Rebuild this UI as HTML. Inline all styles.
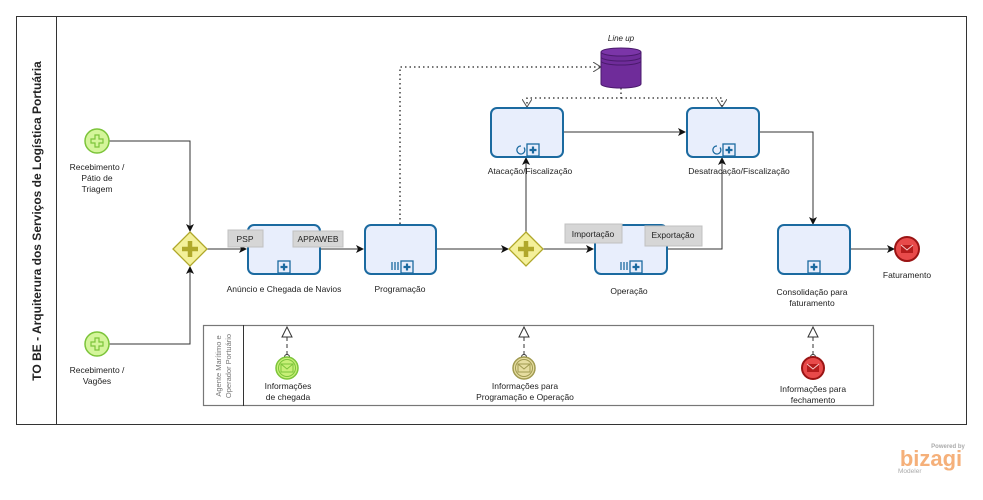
<!DOCTYPE html>
<html><head><meta charset="utf-8"><style>
body{margin:0;background:#fff}
svg{display:block;font-family:"Liberation Sans",sans-serif}
text{font-size:8.5px;fill:#222}
</style></head><body>
<svg width="983" height="500" viewBox="0 0 983 500">
<defs>
<marker id="a" markerWidth="8" markerHeight="8" refX="7" refY="4" orient="auto" markerUnits="userSpaceOnUse"><path d="M0,0 L8,4 L0,8 L2,4z" fill="#111"/></marker>
<marker id="o" markerWidth="10" markerHeight="10" refX="8" refY="5" orient="auto" markerUnits="userSpaceOnUse"><path d="M0,0 L8,5 L0,10" fill="none" stroke="#555"/></marker>
<g id="plus"><rect x="-6" y="-6" width="12" height="12" fill="#e8eefc" stroke="#1b6aa0" stroke-width="1.3"/><path d="M-3.5,0H3.5M0,-3.5V3.5" stroke="#1b6aa0" stroke-width="2.2"/></g>
<g id="gw"><path d="M0,-17 L17,0 L0,17 L-17,0z" fill="#f4f09a" stroke="#b0a82a" stroke-width="1.3"/><path d="M-8,0H8M0,-8V8" stroke="#b0a82a" stroke-width="4.5"/></g>
<g id="env"><rect x="-6" y="-4" width="12" height="8" fill="none" stroke-width="1"/><path d="M-6,-4 L0,1 L6,-4" fill="none" stroke-width="1"/></g>
</defs>
<!-- pool -->
<rect x="16.5" y="16.5" width="950" height="408" fill="#fff" stroke="#333"/>
<line x1="56.5" y1="16" x2="56.5" y2="425" stroke="#333"/>
<text transform="translate(41,221) rotate(-90)" text-anchor="middle" style="font-size:12px;font-weight:bold;fill:#222">TO BE - Arquiterura dos Serviços de Logística Portuária</text>

<!-- bottom pool -->
<rect x="203.5" y="325.5" width="670" height="80" fill="#fff" stroke="#777" stroke-width="1.2"/>
<line x1="243.5" y1="325" x2="243.5" y2="406" stroke="#333"/>
<text transform="translate(221,366) rotate(-90)" text-anchor="middle" style="font-size:7.5px;fill:#777">Agente Marítimo e</text>
<text transform="translate(231,366) rotate(-90)" text-anchor="middle" style="font-size:7.5px;fill:#777">Operador Portuário</text>

<!-- sequence flows -->
<g fill="none" stroke="#333" stroke-width="1">
<path d="M109,141 H190 V231" marker-end="url(#a)"/>
<path d="M109,344 H190 V267" marker-end="url(#a)"/>
<path d="M207,249 H246" marker-end="url(#a)"/>
<path d="M320,249 H363" marker-end="url(#a)"/>
<path d="M436,249 H508" marker-end="url(#a)"/>
<path d="M543,249 H593" marker-end="url(#a)"/>
<path d="M526,232 V158" marker-end="url(#a)"/>
<path d="M563,132 H685" marker-end="url(#a)"/>
<path d="M667,249 H722 V158" marker-end="url(#a)"/>
<path d="M759,132 H813 V224" marker-end="url(#a)"/>
<path d="M850,249 H894" marker-end="url(#a)"/>
</g>
<!-- associations -->
<g fill="none" stroke="#222" stroke-width="1.3" stroke-dasharray="1.5,3">
<path d="M400,224 V67 H601" marker-end="url(#o)"/>
<path d="M621,88 V98 H527 V107" marker-end="url(#o)"/>
<path d="M621,98 H722 V107" marker-end="url(#o)"/>
</g>

<!-- data store -->
<g>
<path d="M601,52 V84 A20,4 0 0 0 641,84 V52" fill="#6f2c9a" stroke="#4a1a6c"/>
<ellipse cx="621" cy="52" rx="20" ry="4" fill="#7b35a8" stroke="#4a1a6c"/>
<path d="M601,57 A20,4 0 0 0 641,57 M601,61 A20,4 0 0 0 641,61" fill="none" stroke="#4a1a6c"/>
<text x="621" y="41" text-anchor="middle" style="font-style:italic;font-size:8px">Line up</text>
</g>

<!-- start events -->
<g fill="#d4f59a" stroke="#7cc43a" stroke-width="1.5">
<circle cx="97" cy="141" r="12"/><circle cx="97" cy="344" r="12"/>
</g>
<g fill="none" stroke="#7cc43a" stroke-width="1.2">
<path d="M95,135h4v4h4v4h-4v4h-4v-4h-4v-4h4z"/>
<path d="M95,338h4v4h4v4h-4v4h-4v-4h-4v-4h4z"/>
</g>
<text x="97" y="170" text-anchor="middle">Recebimento /</text>
<text x="97" y="181" text-anchor="middle">Pátio de</text>
<text x="97" y="192" text-anchor="middle">Triagem</text>
<text x="97" y="373" text-anchor="middle">Recebimento /</text>
<text x="97" y="384" text-anchor="middle">Vagões</text>

<use href="#gw" x="190" y="249"/>
<use href="#gw" x="526" y="249"/>

<!-- tasks -->
<g fill="#e8eefc" stroke="#1b6aa0" stroke-width="2">
<rect x="248" y="225" width="72" height="49" rx="6"/>
<rect x="365" y="225" width="71" height="49" rx="6"/>
<rect x="595" y="225" width="72" height="49" rx="6"/>
<rect x="491" y="108" width="72" height="49" rx="6"/>
<rect x="687" y="108" width="72" height="49" rx="6"/>
<rect x="778" y="225" width="72" height="49" rx="6"/>
</g>
<use href="#plus" x="284" y="267"/>
<use href="#plus" x="407" y="267"/>
<use href="#plus" x="636" y="267"/>
<use href="#plus" x="533" y="150"/>
<use href="#plus" x="729" y="150"/>
<use href="#plus" x="814" y="267"/>
<g stroke="#1b6aa0" stroke-width="1.3">
<path d="M392,262v8M395,262v8M398,262v8"/>
<path d="M621,262v8M624,262v8M627,262v8"/>
</g>
<g fill="none" stroke="#1b6aa0" stroke-width="1.2">
<path d="M521,146 a4,4 0 1 0 3,1.5"/><path d="M717,146 a4,4 0 1 0 3,1.5"/>
</g>

<!-- annotations -->
<g fill="#d6d6d6" stroke="#c0c0c0">
<rect x="228" y="230" width="35" height="17"/>
<rect x="293" y="231" width="50" height="16"/>
<rect x="565" y="224" width="57" height="19"/>
<rect x="645" y="226" width="57" height="20"/>
</g>
<text x="245" y="242" text-anchor="middle">PSP</text>
<text x="318" y="242" text-anchor="middle">APPAWEB</text>
<text x="593" y="237" text-anchor="middle">Importação</text>
<text x="673" y="238" text-anchor="middle">Exportação</text>

<text x="284" y="292" text-anchor="middle">Anúncio e Chegada de Navios</text>
<text x="400" y="292" text-anchor="middle">Programação</text>
<text x="629" y="294" text-anchor="middle">Operação</text>
<text x="530" y="174" text-anchor="middle">Atacação/Fiscalização</text>
<text x="739" y="174" text-anchor="middle">Desatracação/Fiscalização</text>
<text x="812" y="295" text-anchor="middle">Consolidação para</text>
<text x="812" y="306" text-anchor="middle">faturamento</text>

<!-- end event -->
<circle cx="907" cy="249" r="12" fill="#e84a4a" stroke="#9a1414" stroke-width="2"/>
<g transform="translate(907,249)"><rect x="-6" y="-4" width="12" height="8" fill="#b51c1c"/><path d="M-6,-4 L0,1 L6,-4" fill="none" stroke="#f8caca"/></g>
<text x="907" y="278" text-anchor="middle">Faturamento</text>

<!-- message flows -->
<g fill="none" stroke="#333" stroke-width="1">
<path d="M287,337 V355" stroke-dasharray="4,3"/><path d="M282,337 L287,327 L292,337z" fill="#fff"/><circle cx="287" cy="357" r="2.5" fill="#fff"/>
<path d="M524,337 V355" stroke-dasharray="4,3"/><path d="M519,337 L524,327 L529,337z" fill="#fff"/><circle cx="524" cy="357" r="2.5" fill="#fff"/>
<path d="M813,337 V355" stroke-dasharray="4,3"/><path d="M808,337 L813,327 L818,337z" fill="#fff"/><circle cx="813" cy="357" r="2.5" fill="#fff"/>
</g>
<circle cx="287" cy="368" r="11" fill="#c8f078" stroke="#7cc43a" stroke-width="1.5"/>
<circle cx="287" cy="368" r="8.5" fill="none" stroke="#7cc43a"/>
<use href="#env" x="287" y="368" stroke="#7cc43a"/>
<circle cx="524" cy="368" r="11" fill="#e6dda0" stroke="#a09a50" stroke-width="1.5"/>
<circle cx="524" cy="368" r="8.5" fill="none" stroke="#a09a50"/>
<use href="#env" x="524" y="368" stroke="#a09a50"/>
<circle cx="813" cy="368" r="11" fill="#e84a4a" stroke="#9a1414" stroke-width="2"/>
<g transform="translate(813,368)"><rect x="-6" y="-4" width="12" height="8" fill="#b51c1c"/><path d="M-6,-4 L0,1 L6,-4" fill="none" stroke="#f8caca"/></g>
<text x="288" y="389" text-anchor="middle">Informações</text>
<text x="288" y="400" text-anchor="middle">de chegada</text>
<text x="525" y="389" text-anchor="middle">Informações para</text>
<text x="525" y="400" text-anchor="middle">Programação e Operação</text>
<text x="813" y="392" text-anchor="middle">Informações para</text>
<text x="813" y="403" text-anchor="middle">fechamento</text>

<!-- logo -->
<text x="948" y="448" text-anchor="middle" style="font-size:6px;fill:#aaa;font-weight:bold">Powered by</text>
<text x="931" y="466" text-anchor="middle" style="font-size:22px;fill:#f5b07a;font-weight:bold">bizagi</text>
<text x="898" y="473" style="font-size:6.5px;fill:#aaa">Modeler</text>
</svg>
</body></html>
